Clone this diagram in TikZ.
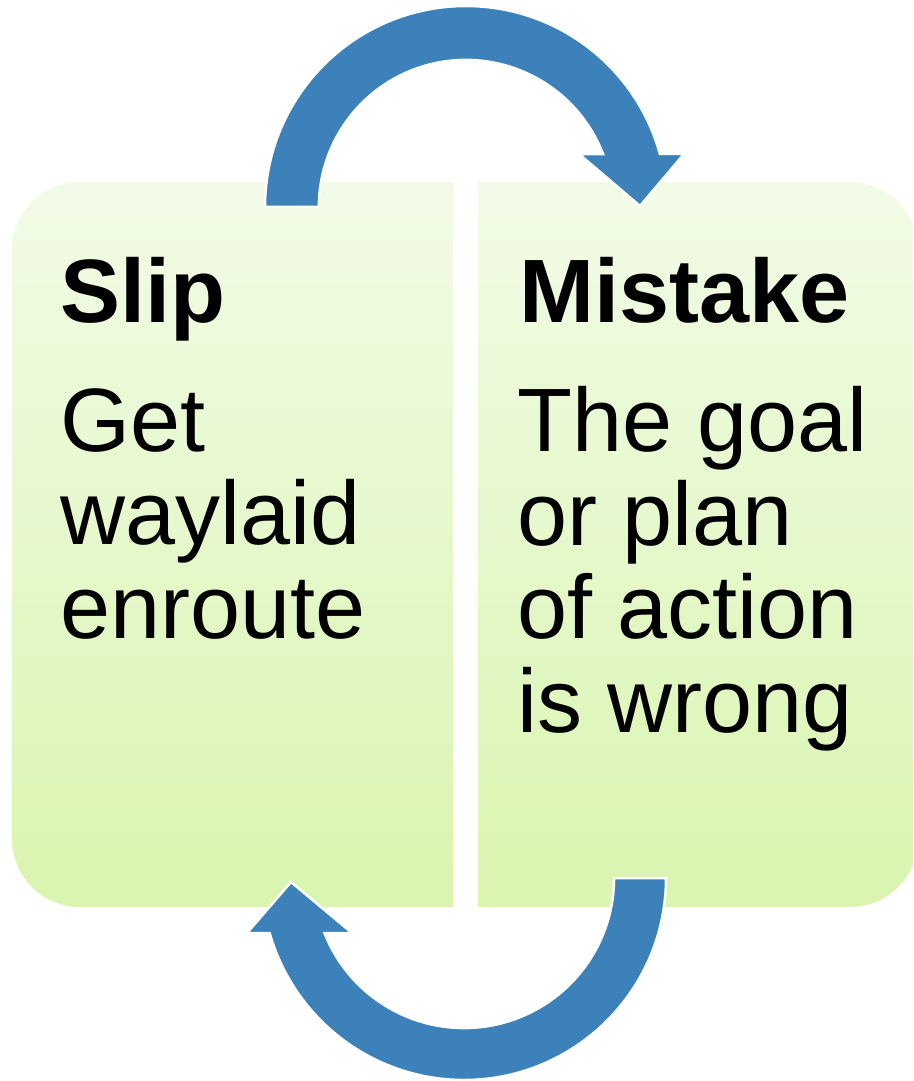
\documentclass[tikz,border=0pt]{standalone}
\usepackage{fontspec}
\setmainfont{Liberation Sans}
\definecolor{arrowblue}{HTML}{3C81B9}
\definecolor{boxtop}{HTML}{F2FBE7}
\definecolor{boxbot}{HTML}{D9F5AF}
\tikzset{
  boxfill/.style={top color=boxtop, bottom color=boxbot, draw=none},
  bluearrow/.style={fill=arrowblue, draw=white, line width=2.5pt, line join=miter},
  titletext/.style={anchor=base west, inner sep=0pt, font=\fontsize{90pt}{93.5pt}\selectfont\bfseries},
  bodytext/.style={anchor=base west, inner sep=0pt, align=left, font=\fontsize{90pt}{93.5pt}\selectfont},
}
\begin{document}
\begin{tikzpicture}[x=1pt,y=1pt]
\useasboundingbox (0,0) rectangle (913,-1081);
\clip (0,0) rectangle (913,-1081);
% boxes
\shade[boxfill] (453,-182) -- (80,-182) arc[start angle=90,end angle=180,radius=68pt]
  -- (12,-839) arc[start angle=180,end angle=270,radius=68pt] -- (453,-907) -- cycle;
\shade[boxfill] (478,-182) -- (850,-182) arc[start angle=90,end angle=0,radius=68pt]
  -- (918,-839) arc[start angle=0,end angle=-90,radius=68pt] -- (478,-907) -- cycle;
% texts (base anchor of a multi-line node is the baseline of its last line)
\node[titletext] (sliptitle) at (60,-322) {Slip};
\node[bodytext] (slipbody) at (60,-638) {Get\\waylaid\\enroute};
\node[titletext] (mistaketitle) at (519,-322) {Mistake};
\node[bodytext] (mistakebody) at (517,-732) {The goal\\or plan\\of action\\is wrong};
% top arrow
\path[bluearrow] (265,-207) arc[start angle=180,end angle=15.3,radius=201pt]
  -- (684,-154) -- (640,-206) -- (579,-154) -- (603,-154)
  arc[start angle=21.1,end angle=180,radius=147pt] -- cycle;
% bottom arrow
\path[bluearrow] (666,-878) arc[start angle=0,end angle=-164.2,radius=202pt]
  -- (247,-933) -- (291,-882) -- (352,-933) -- (324.5,-933)
  arc[start angle=-158.5,end angle=0,radius=150pt] -- cycle;
\end{tikzpicture}
\end{document}
